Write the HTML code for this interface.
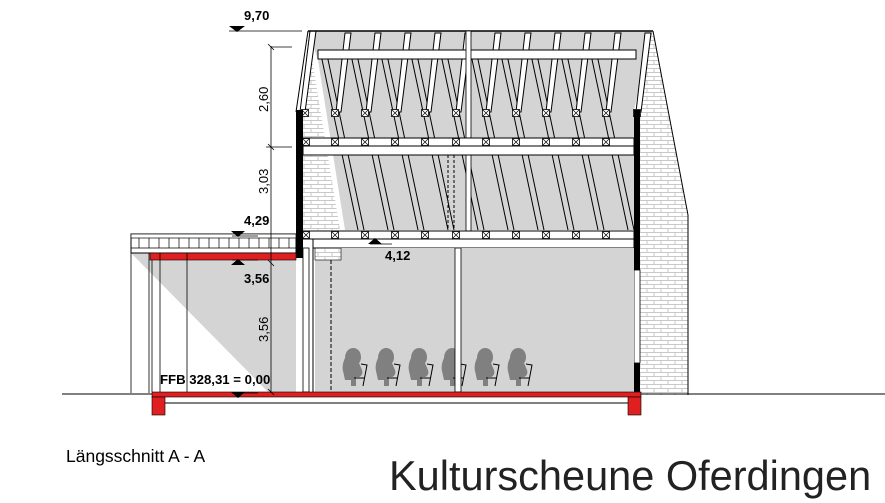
<!DOCTYPE html>
<html><head><meta charset="utf-8"><style>
html,body{margin:0;padding:0;background:#fff;width:885px;height:503px;overflow:hidden}
svg{display:block}
text{font-family:"Liberation Sans",Arial,sans-serif}
</style></head><body>
<svg width="885" height="503" viewBox="0 0 885 503" xmlns="http://www.w3.org/2000/svg">
<defs>
<pattern id="brick" width="14" height="8" patternUnits="userSpaceOnUse">
<rect width="14" height="8" fill="#fff"/>
<path d="M0 0.5H14M0 4.5H14M3 0.5V4.5M10 4.5V8" stroke="#c8c8c8" stroke-width="1"/>
</pattern>
<g id="x"><rect x="-3.5" y="-3.5" width="7" height="7" fill="#fff" stroke="#000" stroke-width="0.8"/><path d="M-3 -3L3 3M3 -3L-3 3" stroke="#000" stroke-width="0.7"/></g>
<g id="p">
<path d="M7 0c5 0 8 4 8 9 0 3-1 5-2 6l3 7c1 3 0 6-3 7l-3 0 0 9-5 0 0-6-6 0-2-9c-1-4 0-9 2-13 0-5 3-10 8-10z" fill="#808080"/>
<path d="M15 16l6 1-4 21M8 30h11" stroke="#000" stroke-width="1" fill="none"/>
</g>
</defs>

<polygon points="640,40 653,31 688,215 688,395 640,395" fill="url(#brick)"/>
<line x1="653" y1="31" x2="688" y2="215" stroke="#000" stroke-width="1"/>
<line x1="688" y1="215" x2="688" y2="395" stroke="#000" stroke-width="1"/>
<polygon points="303,110 308,35 340,230 303,230" fill="url(#brick)"/>

<polygon points="308,31 653,31 634,110 634,230 345,230 318,60" fill="#d4d4d4"/>
<g stroke="#000" stroke-width="1" fill="none">
<path d="M320 50L358 230M326 50L364 230M350 50L388 230M356 50L394 230M380 50L418 230M386 50L424 230M410 50L448 230M416 50L454 230M440 50L478 230M446 50L484 230M470 50L508 230M476 50L514 230M500 50L538 230M506 50L544 230M530 50L568 230M536 50L574 230M560 50L598 230M566 50L604 230M590 50L628 230M596 50L634 230"/>
</g>
<g fill="#fff" stroke="#000" stroke-width="1">
<polygon points="310,31 316,31 305,112 300,112"/>
<polygon points="345,33 351,33 341,112 336,112"/>
<polygon points="375,33 381,33 371,112 366,112"/>
<polygon points="405,33 411,33 401,112 396,112"/>
<polygon points="435,33 441,33 431,112 426,112"/>
<polygon points="465,33 471,33 461,112 456,112"/>
<polygon points="495,33 501,33 491,112 486,112"/>
<polygon points="525,33 531,33 521,112 516,112"/>
<polygon points="555,33 561,33 551,112 546,112"/>
<polygon points="585,33 591,33 581,112 576,112"/>
<polygon points="615,33 621,33 611,112 606,112"/>
<polygon points="645,33 651,33 641,112 636,112"/>
</g>
<rect x="318" y="50" width="318" height="9" fill="#fff" stroke="#000"/>
<line x1="308" y1="31" x2="653" y2="31" stroke="#000" stroke-width="1.5"/>
<line x1="308" y1="31" x2="296" y2="112" stroke="#000"/>
<rect x="466" y="31" width="5" height="200" fill="#fff" stroke="#000" stroke-width="0.8"/>
<line x1="448" y1="150" x2="448" y2="230" stroke="#000" stroke-dasharray="3,2"/>
<line x1="454" y1="150" x2="454" y2="230" stroke="#000" stroke-dasharray="3,2"/>

<rect x="303" y="138" width="331" height="8" fill="#fff" stroke="#000"/>
<rect x="303" y="146" width="331" height="9" fill="#fff" stroke="#000"/>
<g>
<use href="#x" x="305" y="113"/><use href="#x" x="335" y="113"/><use href="#x" x="365" y="113"/><use href="#x" x="395" y="113"/><use href="#x" x="425" y="113"/><use href="#x" x="456" y="113"/><use href="#x" x="486" y="113"/><use href="#x" x="516" y="113"/><use href="#x" x="546" y="113"/><use href="#x" x="576" y="113"/><use href="#x" x="606" y="113"/><use href="#x" x="637" y="113"/>
<use href="#x" x="306" y="142"/><use href="#x" x="335" y="142"/><use href="#x" x="365" y="142"/><use href="#x" x="395" y="142"/><use href="#x" x="425" y="142"/><use href="#x" x="456" y="142"/><use href="#x" x="486" y="142"/><use href="#x" x="516" y="142"/><use href="#x" x="546" y="142"/><use href="#x" x="576" y="142"/><use href="#x" x="606" y="142"/>
</g>
<rect x="303" y="231" width="331" height="8" fill="#fff" stroke="#000"/>
<rect x="313" y="239" width="321" height="9" fill="#fff" stroke="#000"/>
<g>
<use href="#x" x="306" y="235"/><use href="#x" x="335" y="235"/><use href="#x" x="365" y="235"/><use href="#x" x="395" y="235"/><use href="#x" x="425" y="235"/><use href="#x" x="456" y="235"/><use href="#x" x="486" y="235"/><use href="#x" x="516" y="235"/><use href="#x" x="546" y="235"/><use href="#x" x="576" y="235"/><use href="#x" x="606" y="235"/>
</g>

<rect x="296" y="110" width="7" height="148" fill="#000"/>
<rect x="634" y="110" width="6" height="160" fill="#000"/>
<rect x="634" y="270" width="6" height="93" fill="#fff" stroke="#000" stroke-width="0.8"/>
<rect x="634" y="363" width="6" height="32" fill="#000"/>

<rect x="315" y="248" width="319" height="144" fill="#d4d4d4"/>
<rect x="315" y="248" width="26" height="12" fill="url(#brick)" stroke="#000" stroke-width="0.6"/>
<rect x="303" y="248" width="6" height="144" fill="#fff" stroke="#000" stroke-width="0.8"/>
<line x1="313" y1="248" x2="313" y2="392" stroke="#000"/>
<line x1="331" y1="260" x2="331" y2="392" stroke="#000" stroke-dasharray="4,2"/>
<polygon points="131,253 296,253 296,392 268,392" fill="#d4d4d4"/>
<rect x="131" y="234" width="165" height="19" fill="#fff" stroke="#000"/>
<rect x="131" y="234" width="165" height="4" fill="#fff" stroke="#000" stroke-width="0.7"/>
<path d="M139 238v10M149 238v10M159 238v10M169 238v10M179 238v10M189 238v10M199 238v10M209 238v10M219 238v10M229 238v10M239 238v10M249 238v10M259 238v10M269 238v10M279 238v10M289 238v10M131 248h165" stroke="#000" stroke-width="0.7"/>
<rect x="150" y="253" width="146" height="7" fill="#e02020" stroke="#000" stroke-width="0.6"/>
<line x1="131" y1="253" x2="131" y2="393" stroke="#000" stroke-width="0.8"/>
<line x1="149" y1="253" x2="149" y2="393" stroke="#000" stroke-width="0.8"/>
<line x1="152" y1="260" x2="152" y2="392" stroke="#000" stroke-width="0.8"/>
<line x1="160" y1="253" x2="160" y2="393" stroke="#000" stroke-width="0.8"/>
<line x1="187" y1="253" x2="187" y2="393" stroke="#000" stroke-width="0.8"/>

<use href="#p" x="346" y="348"/><use href="#p" x="379" y="348"/><use href="#p" x="412" y="348"/><use href="#p" x="445" y="348"/><use href="#p" x="478" y="348"/><use href="#p" x="511" y="348"/>
<rect x="455" y="248" width="6" height="144" fill="#fff" stroke="#000" stroke-width="0.8"/>

<line x1="62" y1="394" x2="152" y2="394" stroke="#000"/>
<line x1="641" y1="394" x2="885" y2="394" stroke="#000"/>
<rect x="152" y="392" width="489" height="5" fill="#e02020" stroke="#000" stroke-width="0.6"/>
<rect x="152" y="397" width="13" height="18" fill="#e02020" stroke="#000" stroke-width="0.6"/>
<rect x="628" y="397" width="13" height="18" fill="#e02020" stroke="#000" stroke-width="0.6"/>
<line x1="165" y1="403" x2="628" y2="403" stroke="#000"/>

<g stroke="#000" stroke-width="0.8">
<line x1="271" y1="46" x2="271" y2="393"/>
<line x1="271" y1="47" x2="292" y2="47"/>
<line x1="266" y1="147" x2="292" y2="147"/>
<line x1="229" y1="31" x2="302" y2="31"/>
<line x1="268" y1="44" x2="274" y2="50"/><line x1="268" y1="144" x2="274" y2="150"/><line x1="268" y1="260" x2="274" y2="266"/><line x1="268" y1="389" x2="274" y2="395"/>
<line x1="232" y1="236" x2="258" y2="236"/>
<line x1="232" y1="260" x2="258" y2="260"/>
<line x1="232" y1="393" x2="258" y2="393"/>
<line x1="370" y1="244" x2="392" y2="244"/>
</g>
<g fill="#000">
<polygon points="229,26 245,26 237,32"/>
<polygon points="231,231 245,231 238,237"/>
<polygon points="231,265 245,265 238,259"/>
<polygon points="231,392 245,392 238,398"/>
<polygon points="368,244 382,244 375,238"/>
</g>
<g font-size="13" font-weight="bold" fill="#000">
<text x="244" y="20">9,70</text>
<text x="244" y="225">4,29</text>
<text x="244" y="283">3,56</text>
<text x="385" y="260">4,12</text>
<text x="160" y="384" font-size="13.2">FFB 328,31 = 0,00</text>
</g>
<g font-size="13" fill="#000">
<text transform="translate(268,112) rotate(-90)">2,60</text>
<text transform="translate(268,194) rotate(-90)">3,03</text>
<text transform="translate(268,342) rotate(-90)">3,56</text>
</g>
<text x="66" y="462" font-size="17.5" fill="#000">Längsschnitt A - A</text>
<text x="389" y="490" font-size="41.5" fill="#222">Kulturscheune Oferdingen</text>
</svg>
</body></html>
